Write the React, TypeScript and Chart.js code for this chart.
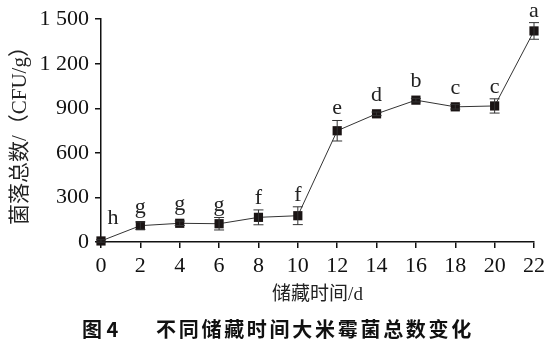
import React, { useEffect, useRef } from "react";
import { Chart, registerables } from "chart.js";

Chart.register(...registerables);

const days = [0, 2, 4, 6, 8, 10, 12, 14, 16, 18, 20, 22];
const counts = [7, 110, 126, 123, 166, 177, 749, 863, 955, 910, 916, 1421];
const errors = [8, 25, 15, 42, 50, 60, 69, 12, 12, 15, 48, 56];
const letters = ["h", "g", "g", "g", "f", "f", "e", "d", "b", "c", "c", "a"];
const yTicks = [0, 300, 600, 900, 1200, 1500];
const xLabel = "储藏时间/d";
const yLabel = "菌落总数/（CFU/g）";
const captionFig = "图 4";
const captionText = "不同储藏时间大米霉菌总数变化";

const SERIF = "'Liberation Serif', 'Times New Roman', 'Noto Sans CJK SC', serif";
const MIXED = "'Liberation Serif', 'Noto Sans CJK SC', serif";

const fmt = (v: number) => {
  const s = String(v);
  return v >= 1000 ? s.slice(0, s.length - 3) + " " + s.slice(-3) : s;
};

const errorPlugin = {
  id: "errLetters",
  afterDatasetsDraw(chart: any) {
    const ctx = chart.ctx;
    const xs = chart.scales.x;
    const ys = chart.scales.y;
    ctx.save();
    ctx.strokeStyle = "#333";
    ctx.lineWidth = 1;
    days.forEach((d, i) => {
      const x = xs.getPixelForValue(d);
      const yt = ys.getPixelForValue(counts[i] + errors[i]);
      const yb = ys.getPixelForValue(counts[i] - errors[i]);
      ctx.beginPath();
      ctx.moveTo(x, yt);
      ctx.lineTo(x, yb);
      ctx.moveTo(x - 5, yt);
      ctx.lineTo(x + 5, yt);
      ctx.moveTo(x - 5, yb);
      ctx.lineTo(x + 5, yb);
      ctx.stroke();
    });
    ctx.fillStyle = "#222";
    ctx.font = "22px " + SERIF;
    ctx.textAlign = "center";
    ctx.textBaseline = "alphabetic";
    days.forEach((d, i) => {
      let x = xs.getPixelForValue(d);
      let y = Math.min(ys.getPixelForValue(counts[i] + errors[i]), ys.getPixelForValue(counts[i]) - 7) - 6;
      if (i === 0) {
        x += 12;
        y -= 4;
      }
      ctx.fillText(letters[i], x, y);
    });
    // caption
    ctx.font = "bold 20px 'Noto Sans CJK SC', " + SERIF;
    ctx.textAlign = "left";
    ctx.textBaseline = "middle";
    ctx.fillStyle = "#111";
    ctx.fillText(captionFig, 82, 329);
    const startX = 156;
    const endX = 474;
    const step = (endX - startX) / captionText.length;
    for (let k = 0; k < captionText.length; k++) {
      ctx.fillText(captionText[k], startX + k * step, 329);
    }
    ctx.restore();
  },
};

export default function App() {
  const ref = useRef<HTMLCanvasElement | null>(null);
  useEffect(() => {
    if (!ref.current) return;
    const chart = new Chart(ref.current, {
      type: "line",
      data: {
        datasets: [
          {
            data: days.map((d, i) => ({ x: d, y: counts[i] })),
            borderColor: "#333",
            borderWidth: 1,
            pointStyle: "rect",
            pointRadius: 6.5,
            pointBackgroundColor: "#1a1414",
            pointBorderColor: "#1a1414",
            pointBorderWidth: 0,
            tension: 0,
            clip: false,
          },
        ],
      },
      options: {
        animation: false,
        responsive: false,
        maintainAspectRatio: false,
        layout: { padding: { left: 0, right: 15, top: 19, bottom: 50 } },
        plugins: {
          legend: { display: false },
          tooltip: { enabled: false },
        },
        scales: {
          x: {
            type: "linear",
            min: 0,
            max: 22,
            afterBuildTicks: (s: any) => {
              s.ticks = days.map((v) => ({ value: v }));
            },
            afterFit: (s: any) => {
              s.height = 64;
            },
            border: { display: true, color: "#111", width: 1.5 },
            grid: { display: true, drawOnChartArea: false, drawTicks: true, tickLength: 6, color: "#111", lineWidth: 1.5 },
            ticks: {
              color: "#111",
              font: { family: SERIF, size: 22 },
              padding: 5,
              maxRotation: 0,
              autoSkip: false,
            },
            title: {
              display: true,
              text: xLabel,
              color: "#222",
              font: { family: MIXED, size: 19 },
              padding: { top: 0, bottom: 0 },
            },
          },
          y: {
            type: "linear",
            min: 0,
            max: 1500,
            afterBuildTicks: (s: any) => {
              s.ticks = yTicks.map((v) => ({ value: v }));
            },
            afterFit: (s: any) => {
              s.width = 101;
            },
            border: { display: true, color: "#111", width: 1.5 },
            grid: { display: true, drawOnChartArea: false, drawTicks: true, tickLength: 6, color: "#111", lineWidth: 1.5 },
            ticks: {
              color: "#111",
              font: { family: SERIF, size: 22 },
              padding: 6,
              callback: (v: any) => fmt(Number(v)),
            },
            title: {
              display: true,
              text: yLabel,
              color: "#222",
              font: { family: MIXED, size: 21 },
              padding: { top: 8, bottom: 0 },
            },
          },
        },
      },
      plugins: [errorPlugin],
    } as any);
    return () => chart.destroy();
  }, []);
  return (
    <div style={{ position: "fixed", left: 0, top: 0, width: 550, height: 356, background: "#fff" }}>
      <canvas ref={ref} width={550} height={356} style={{ width: 550, height: 356, display: "block" }} />
    </div>
  );
}
